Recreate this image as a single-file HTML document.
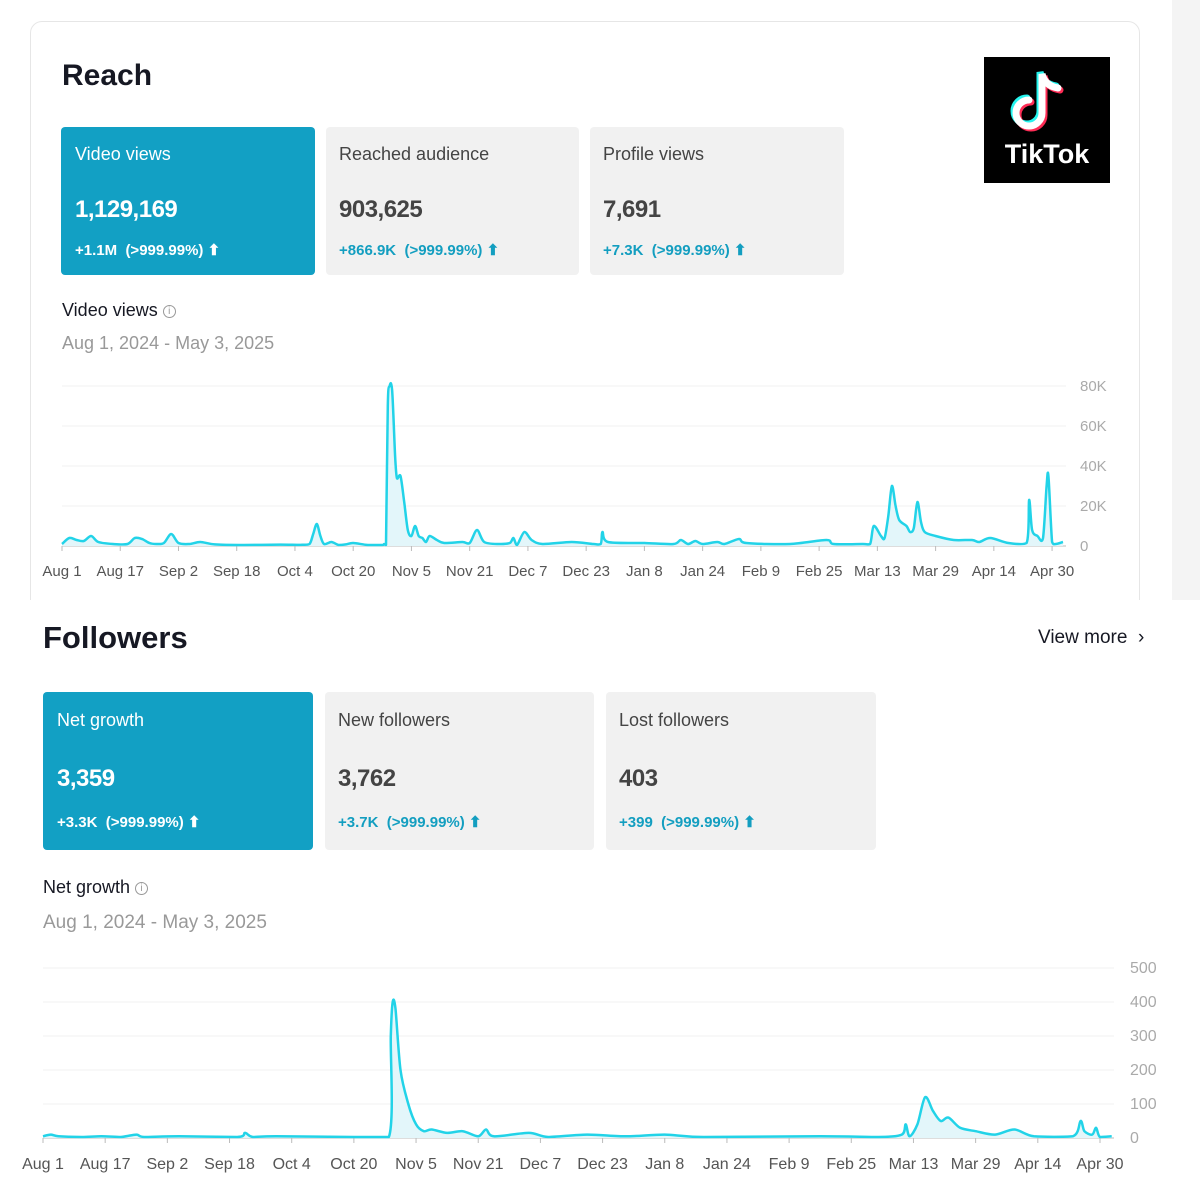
<!DOCTYPE html>
<html><head><meta charset="utf-8"><style>
*{margin:0;padding:0;box-sizing:border-box}
body{width:1200px;height:1200px;background:#fff;font-family:"Liberation Sans",sans-serif;position:relative;overflow:hidden;color:#161823}
.abs{position:absolute;white-space:nowrap}
.strip{left:1172px;top:0;width:28px;height:600px;background:#f4f4f4}
.cardbox{left:30px;top:21px;width:1110px;height:640px;border:1px solid #e6e6e6;border-radius:12px}
.card{position:absolute;border-radius:4px;background:#f1f1f1;color:#444}
.card.on{background:#12a0c4;color:#fff}
.card .l{position:absolute;font-size:18px}
.card .n{position:absolute;font-size:24px;font-weight:bold;letter-spacing:-0.5px}
.card .c{position:absolute;font-size:15px;color:#139ec0;font-weight:bold}
.card.on .c{color:#fff}
</style></head><body>
<div class="abs strip"></div>
<div class="abs cardbox"></div>
<div class="abs" style="left:62px;top:59px;font-size:30px;font-weight:bold">Reach</div>
<div class="abs" style="left:984px;top:57px;width:126px;height:126px;background:#000">
<svg width="126" height="126" viewBox="0 0 126 126">
<g fill="none" stroke-width="7" stroke-linecap="round">
<path d="M45 43 a13 13 0 1 0 13 13 V17 q3 12 16 14" stroke="#25f4ee" transform="translate(-2,-2)"/>
<path d="M45 43 a13 13 0 1 0 13 13 V17 q3 12 16 14" stroke="#fe2c55" transform="translate(2,2)"/>
<path d="M45 43 a13 13 0 1 0 13 13 V17 q3 12 16 14" stroke="#fff"/>
</g>
<text x="63" y="106" text-anchor="middle" font-family="Liberation Sans" font-weight="bold" font-size="27" fill="#fff">TikTok</text>
</svg></div>

<div class="card on" style="left:61px;top:127px;width:254px;height:148px"><div class="l" style="left:14px;top:17px">Video views</div><div class="n" style="left:14px;top:69px">1,129,169</div><div class="c" style="left:14px;top:114px">+1.1M&nbsp; (&gt;999.99%) ⬆</div></div>
<div class="card" style="left:326px;top:127px;width:253px;height:148px"><div class="l" style="left:13px;top:17px">Reached audience</div><div class="n" style="left:13px;top:69px">903,625</div><div class="c" style="left:13px;top:114px">+866.9K&nbsp; (&gt;999.99%) ⬆</div></div>
<div class="card" style="left:590px;top:127px;width:254px;height:148px"><div class="l" style="left:13px;top:17px">Profile views</div><div class="n" style="left:13px;top:69px">7,691</div><div class="c" style="left:13px;top:114px">+7.3K&nbsp; (&gt;999.99%) ⬆</div></div>

<div class="abs" style="left:62px;top:300px;font-size:18px">Video views <span style="color:#999;border:1px solid #999;border-radius:50%;display:inline-block;width:13px;height:13px;line-height:12px;text-align:center;font-size:10px;vertical-align:2px">i</span></div>
<div class="abs" style="left:62px;top:333px;font-size:18px;color:#999">Aug 1, 2024 - May 3, 2025</div>

<div class="abs" style="left:0;top:600px;width:1200px;height:600px;background:#fff"></div>
<div class="abs" style="left:43px;top:620px;font-size:31px;font-weight:bold">Followers</div>
<div class="abs" style="left:1038px;top:627px;font-size:19px">View more &nbsp;›</div>
<div class="card on" style="left:43px;top:692px;width:270px;height:158px"><div class="l" style="left:14px;top:18px">Net growth</div><div class="n" style="left:14px;top:73px">3,359</div><div class="c" style="left:14px;top:121px">+3.3K&nbsp; (&gt;999.99%) ⬆</div></div>
<div class="card" style="left:325px;top:692px;width:269px;height:158px"><div class="l" style="left:13px;top:18px">New followers</div><div class="n" style="left:13px;top:73px">3,762</div><div class="c" style="left:13px;top:121px">+3.7K&nbsp; (&gt;999.99%) ⬆</div></div>
<div class="card" style="left:606px;top:692px;width:270px;height:158px"><div class="l" style="left:13px;top:18px">Lost followers</div><div class="n" style="left:13px;top:73px">403</div><div class="c" style="left:13px;top:121px">+399&nbsp; (&gt;999.99%) ⬆</div></div>
<div class="abs" style="left:43px;top:877px;font-size:18px">Net growth <span style="color:#999;border:1px solid #999;border-radius:50%;display:inline-block;width:13px;height:13px;line-height:12px;text-align:center;font-size:10px;vertical-align:2px">i</span></div>
<div class="abs" style="left:43px;top:912px;font-size:19px;color:#999">Aug 1, 2024 - May 3, 2025</div>

<svg id="s" class="abs" style="left:0;top:0" width="1200" height="1200"></svg>
<script>
var labels=["Aug 1","Aug 17","Sep 2","Sep 18","Oct 4","Oct 20","Nov 5","Nov 21","Dec 7","Dec 23","Jan 8","Jan 24","Feb 9","Feb 25","Mar 13","Mar 29","Apr 14","Apr 30"];
var d1=[[0,1],[2,4],[4,3],[6,2.5],[8,5],[10,2],[14,1],[18,1],[20,4],[22,3.5],[24,1.5],[26,1],[28,1.5],[30,6],[32,1.5],[35,1],[38,2],[42,0.8],[50,0.5],[60,0.7],[66,0.6],[68,1],[69,6],[70,11],[71,5],[72,1],[74,2],[76,0.5],[78,0.8],[80,1.5],[84,0.5],[88,0.5],[88.5,1],[89,0.5],[89.5,70],[90,80],[90.7,78],[91.5,45],[92,34],[93,35],[94,22],[95,8],[96,5],[97,10],[98,5],[99,4],[100,2],[101,5],[103,3],[105,1.5],[110,2],[112,1.5],[114,8],[116,2],[120,1],[123,1.5],[124,4],[125,0.3],[127,7],[129,3],[132,1],[140,2],[146,1],[148,1],[148.5,7],[150,2],[160,1.5],[168,1],[170,3],[172,1],[174,2.5],[176,1],[180,2],[182,1],[186,3.5],[188,1.5],[200,1],[210,3],[212,1],[220,1],[222,1],[223,10],[225,5],[226,4],[227,15],[228,30],[229,20],[230,13],[232,10],[233,7],[234,9],[235,22],[236,12],[237,7],[240,5],[245,3],[250,3],[252,2],[255,4],[260,1.5],[265,1.5],[265.7,23],[266.5,8],[268,5],[269.5,4],[270.5,30],[271,35],[272,2],[273,1],[275,2]];
var d2=[[0,5],[2,10],[4,5],[10,3],[15,5],[20,2],[24,10],[26,2],[35,5],[50,2],[52,15],[54,3],[60,5],[80,2],[89,1],[89.5,300],[90,400],[90.7,380],[92,200],[94,100],[96,40],[98,20],[100,25],[104,15],[108,20],[112,5],[114,25],[116,5],[125,15],[130,3],[140,10],[150,5],[160,10],[170,3],[200,5],[215,3],[221,10],[222,40],[223,5],[225,40],[227,120],[229,80],[231,50],[233,60],[236,30],[240,20],[245,10],[250,25],[255,5],[265,5],[267,50],[268,20],[270,10],[271,30],[272,3],[275,5]];
var h='';
function smooth(pts,base){
 var s='M'+pts[0][0].toFixed(1)+' '+pts[0][1].toFixed(1);
 for(var i=0;i<pts.length-1;i++){
  var p0=pts[Math.max(0,i-1)],p1=pts[i],p2=pts[i+1],p3=pts[Math.min(pts.length-1,i+2)];
  var t=0.15;
  var c1=[p1[0]+(p2[0]-p0[0])*t,Math.min(base-1,p1[1]+(p2[1]-p0[1])*t)];
  var c2=[p2[0]-(p3[0]-p1[0])*t,Math.min(base-1,p2[1]-(p3[1]-p1[1])*t)];
  s+='C'+c1[0].toFixed(1)+' '+c1[1].toFixed(1)+' '+c2[0].toFixed(1)+' '+c2[1].toFixed(1)+' '+p2[0].toFixed(1)+' '+p2[1].toFixed(1);
 }
 return s;
}
function chart(data,x0,dx,base,pxPer,ylabels,yx,xlY,right,gridx0,fs,step){
 for(var i=0;i<ylabels.length;i++){var y=base-i*step;
  h+='<line x1="'+gridx0+'" x2="'+right+'" y1="'+y+'" y2="'+y+'" stroke="'+(i==0?'#bbb':'#f0f0f0')+'"/>';
  h+='<text x="'+yx+'" y="'+(y+5)+'" font-size="'+fs+'" fill="#aaa" font-family="Liberation Sans">'+ylabels[i]+'</text>';}
 for(var i=0;i<labels.length;i++){var x=x0+i*16*dx;
  h+='<line x1="'+x+'" x2="'+x+'" y1="'+base+'" y2="'+(base+5)+'" stroke="#bbb"/>';
  h+='<text x="'+x+'" y="'+xlY+'" font-size="'+fs+'" fill="#555" text-anchor="middle" font-family="Liberation Sans">'+labels[i]+'</text>';}
 var pts=data.map(function(d){return [x0+d[0]*dx, Math.min(base-1,base-d[1]*pxPer)];});
 var p=smooth(pts,base);
 var last=pts[pts.length-1];
 h+='<path d="'+p+'L'+last[0]+' '+base+'L'+x0+' '+base+'Z" fill="#e3f6fa"/>';
 h+='<path d="'+p+'" fill="none" stroke="#22d3e8" stroke-width="2.5" stroke-linejoin="round"/>';
}
chart(d1,62,3.64,546,2,["0","20K","40K","60K","80K"],1080,576,1066,62,15,40);
chart(d2,43,3.886,1138,0.34,["0","100","200","300","400","500"],1130,1169,1114,43,16,34);
document.getElementById('s').innerHTML=h;
</script>
</body></html>
